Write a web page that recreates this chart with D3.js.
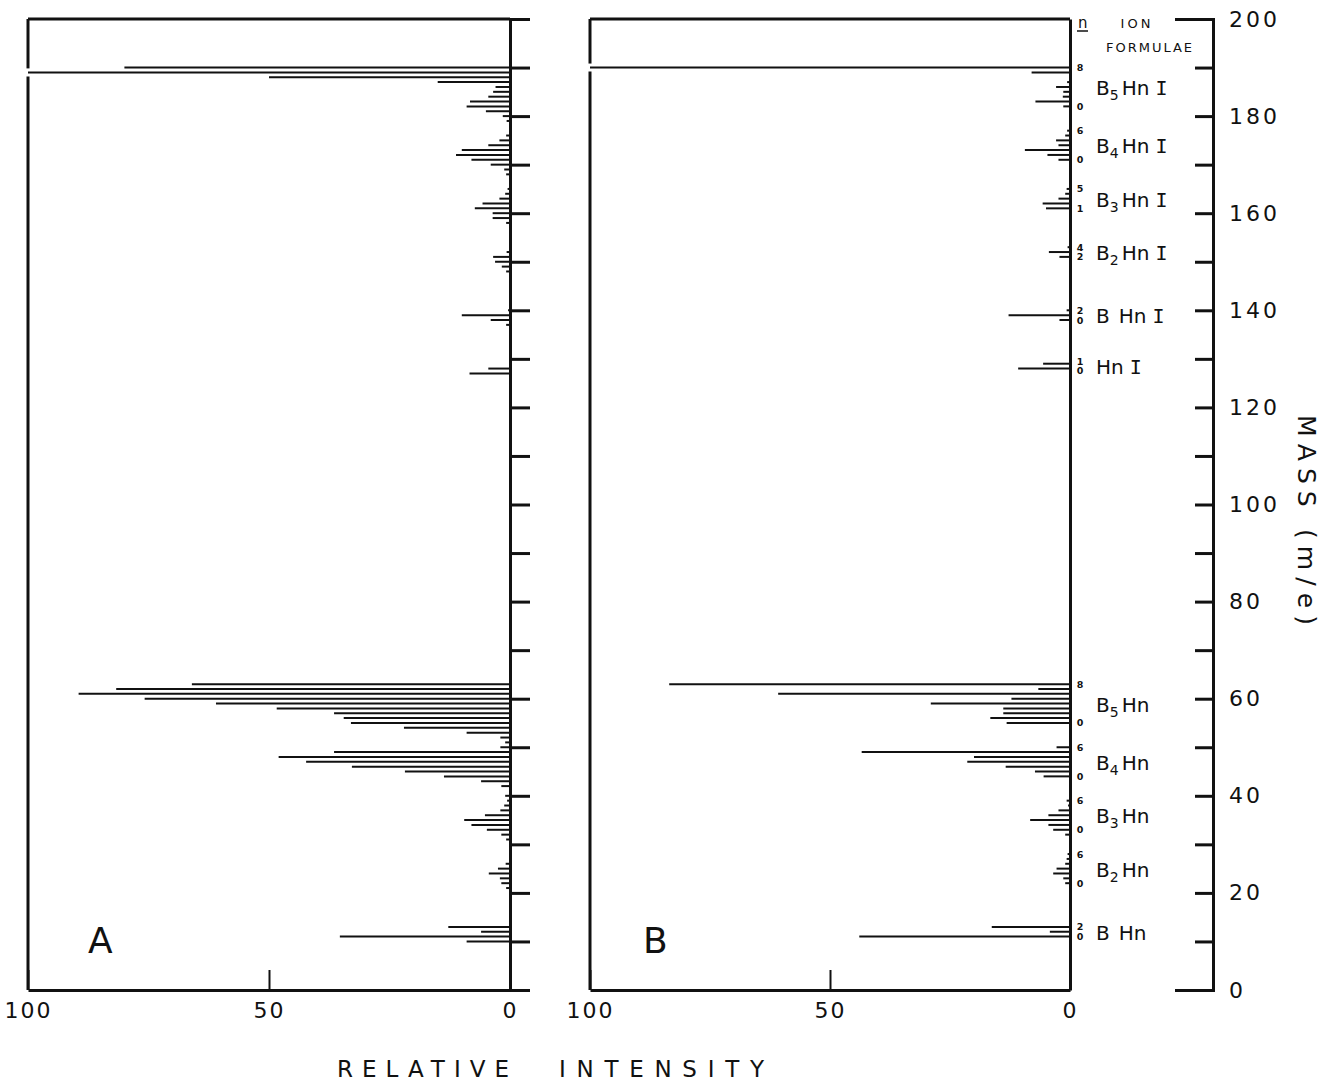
<!DOCTYPE html>
<html>
<head>
    <script src="https://d3js.org/d3.v7.min.js"></script>
    <title>boron hydride iodide spectra</title>
</head>
<style>
    body {
        margin: 0;
        background-color: white;
    }
    svg text {
        font-family: 'DejaVu Sans', sans-serif;
        fill: #111;
    }
</style>
<body>
<div id="chart"></div>
</body>
</html>

<script>
  // peaks: [mass m/e, relative intensity]
  var peaksA = [
      [190, 80], [189, 100], [188, 50], [187, 15], [186, 3], [185, 3.5], [184, 4.5], [183, 8.3], [182, 9], [181, 5], [180, 1.5], [179, 0.7],
      [176, 0.8], [175, 2.2], [174, 4.5], [173, 10], [172, 11.2], [171, 8], [170, 4], [169, 1.2], [168, 0.8],
      [165, 0.5], [164, 1], [163, 2.2], [162, 5.7], [161, 7.3], [160, 3.6], [159, 3.6], [158, 0.8],
      [152, 0.7], [151, 3.5], [150, 3.1], [149, 1.7], [148, 0.8],
      [140, 0.4], [139, 10], [138, 4], [137, 0.8],
      [128, 4.5], [127, 8.4],
      [63, 66], [62, 81.7], [61, 89.5], [60, 75.8], [59, 61], [58, 48.4], [57, 36.5], [56, 34.5], [55, 33], [54, 22], [53, 9], [52, 2], [51, 1], [50, 2],
      [49, 36.5], [48, 48], [47, 42.3], [46, 32.8], [45, 21.8], [44, 13.7], [43, 6], [42, 1.8], [40, 1], [39, 0.6],
      [38, 1.2], [37, 2], [36, 5.2], [35, 9.5], [34, 8], [33, 4.8], [32, 1.8], [31, 0.8],
      [26, 0.9], [25, 2.5], [24, 4.4], [23, 2.1], [22, 1.8], [21, 0.8],
      [13, 12.8], [12, 6], [11, 35.3], [10, 9]
  ];

  var peaksB = [
      [190, 100], [189, 8], [187, 0.6], [186, 2.9], [185, 1.4], [184, 1.5], [183, 7.2], [182, 1.4],
      [177, 0.6], [176, 1], [175, 2.9], [174, 2.4], [173, 9.4], [172, 4.7], [171, 2.4],
      [165, 0.7], [164, 1], [163, 2.4], [162, 5.7], [161, 5],
      [153, 0.5], [152, 4.4], [151, 2.2],
      [140, 0.7], [139, 12.8], [138, 2.2],
      [129, 5.6], [128, 10.8],
      [63, 83.5], [62, 6.6], [61, 60.8], [60, 12.2], [59, 29], [58, 13.9], [57, 13.9], [56, 16.6], [55, 13.2],
      [50, 2.8], [49, 43.4], [48, 20], [47, 21.4], [46, 13.4], [45, 7.3], [44, 5.5],
      [39, 0.7], [38, 0.4], [37, 2.4], [36, 4.5], [35, 8.3], [34, 4.5], [33, 3.5], [32, 1],
      [28, 0.5], [27, 0.7], [26, 1], [25, 2.8], [24, 3.5], [23, 1.4], [22, 1],
      [13, 16.3], [12, 4.2], [11, 43.9]
  ];

  // ion series: boron count, iodine or not, mass of the n = 0 ion, n range marked
  var ionGroups = [
      {boron: 5, iodide: true,  base: 182, nMin: 0, nMax: 8},
      {boron: 4, iodide: true,  base: 171, nMin: 0, nMax: 6},
      {boron: 3, iodide: true,  base: 160, nMin: 1, nMax: 5},
      {boron: 2, iodide: true,  base: 149, nMin: 2, nMax: 4},
      {boron: 1, iodide: true,  base: 138, nMin: 0, nMax: 2},
      {boron: 0, iodide: true,  base: 128, nMin: 0, nMax: 1},
      {boron: 5, iodide: false, base: 55,  nMin: 0, nMax: 8},
      {boron: 4, iodide: false, base: 44,  nMin: 0, nMax: 6},
      {boron: 3, iodide: false, base: 33,  nMin: 0, nMax: 6},
      {boron: 2, iodide: false, base: 22,  nMin: 0, nMax: 6},
      {boron: 1, iodide: false, base: 11,  nMin: 0, nMax: 2}
  ];

  var massTicks = d3.range(0, 201, 10);
  var intensityTicks = [100, 50, 0];

  var svg = d3.select("#chart").append("svg")
      .attr("width", 1321)
      .attr("height", 1084)
      .style("background-color", "white");

  var y = d3.scaleLinear().domain([0, 200]).range([990, 19]);
  var xA = d3.scaleLinear().domain([0, 100]).range([510, 28]);
  var xB = d3.scaleLinear().domain([0, 100]).range([1070, 590]);

  function drawPanel(x, peaks, name, withTicks) {
      var g = svg.append("g");

      // peaks
      g.selectAll("line.peak")
          .data(peaks)
          .enter()
          .append("line")
          .attr("class", "peak")
          .attr("x1", x(0))
          .attr("x2", function(d) { return x(Math.min(d[1], 100)); })
          .attr("y1", function(d) { return y(d[0]); })
          .attr("y2", function(d) { return y(d[0]); })
          .attr("stroke", "#111")
          .attr("stroke-width", 2);

      // top of frame
      g.append("line")
          .attr("x1", x(100)).attr("x2", x(0))
          .attr("y1", y(200)).attr("y2", y(200))
          .attr("stroke", "#111").attr("stroke-width", 3);

      // left border, broken where a peak runs off scale
      var cuts = [y(200)];
      peaks.filter(function(d) { return d[1] >= 100; }).forEach(function(d) {
          cuts.push(y(d[0]) - 4, y(d[0]) + 4);
      });
      cuts.push(y(0));
      for (var i = 0; i < cuts.length; i += 2) {
          g.append("line")
              .attr("x1", x(100)).attr("x2", x(100))
              .attr("y1", cuts[i]).attr("y2", cuts[i + 1])
              .attr("stroke", "#111").attr("stroke-width", 3);
      }

      // zero line (panel A carries the mass ticks on it)
      var right = g.append("g").attr("transform", "translate(" + x(0) + ",0)");
      if (withTicks) {
          right.call(d3.axisRight(y)
              .tickValues(massTicks.slice(1, -1))
              .tickSize(20)
              .tickSizeOuter(20)
              .tickFormat(""));
      } else {
          right.call(d3.axisRight(y).tickValues([]).tickSizeOuter(0));
      }
      right.selectAll("path, line").attr("stroke", "#111").attr("stroke-width", 3);

      // intensity axis
      var bottom = g.append("g")
          .attr("transform", "translate(0," + y(0) + ")")
          .call(d3.axisBottom(x)
              .tickValues(intensityTicks)
              .tickSize(-20)
              .tickSizeOuter(0)
              .tickPadding(12));
      bottom.selectAll("path").attr("stroke", "#111").attr("stroke-width", 3);
      bottom.selectAll("line").attr("stroke", "#111").attr("stroke-width", 2);
      bottom.selectAll("text")
          .attr("font-size", 22)
          .attr("letter-spacing", 2);

      // panel letter
      g.append("text")
          .attr("x", x(100) + (name === "A" ? 60 : 53))
          .attr("y", 953)
          .attr("font-size", 36)
          .text(name);
  }

  drawPanel(xA, peaksA, "A", true);
  drawPanel(xB, peaksB, "B", false);

  // mass scale on the far right
  var massAxis = svg.append("g")
      .attr("transform", "translate(1213,0)")
      .call(d3.axisRight(y)
          .tickValues(massTicks)
          .tickSize(-18)
          .tickSizeOuter(-38)
          .tickPadding(16)
          .tickFormat(function(d) { return d % 20 === 0 ? d : ""; }));
  massAxis.selectAll("path, line").attr("stroke", "#111").attr("stroke-width", 3);
  massAxis.selectAll("text")
      .attr("font-size", 22)
      .attr("letter-spacing", 3);

  svg.append("text")
      .attr("transform", "translate(1298,520) rotate(90)")
      .attr("text-anchor", "middle")
      .attr("font-size", 25)
      .attr("textLength", 210)
      .attr("lengthAdjust", "spacing")
      .text("MASS (m/e)");

  svg.append("text")
      .attr("x", 337).attr("y", 1077)
      .attr("font-size", 23)
      .attr("textLength", 172)
      .attr("lengthAdjust", "spacing")
      .text("RELATIVE");
  svg.append("text")
      .attr("x", 559).attr("y", 1077)
      .attr("font-size", 23)
      .attr("textLength", 205)
      .attr("lengthAdjust", "spacing")
      .text("INTENSITY");

  // ion formula column
  svg.append("text")
      .attr("x", 1078).attr("y", 28)
      .attr("font-size", 15)
      .text("n");
  svg.append("line")
      .attr("x1", 1077).attr("x2", 1088)
      .attr("y1", 31).attr("y2", 31)
      .attr("stroke", "#111").attr("stroke-width", 1.5);
  svg.append("text")
      .attr("x", 1137).attr("y", 28)
      .attr("text-anchor", "middle")
      .attr("font-size", 13)
      .attr("letter-spacing", 3)
      .text("ION");
  svg.append("text")
      .attr("x", 1150).attr("y", 52)
      .attr("text-anchor", "middle")
      .attr("font-size", 13)
      .attr("letter-spacing", 2)
      .text("FORMULAE");

  var groups = svg.selectAll("g.ion")
      .data(ionGroups)
      .enter()
      .append("g")
      .attr("class", "ion");

  // n range marks; spread apart when the two masses sit too close
  function nPos(d, which) {
      var top = y(d.base + d.nMax), bot = y(d.base + d.nMin);
      if (bot - top < 9) {
          var mid = (top + bot) / 2;
          top = mid - 4.5;
          bot = mid + 4.5;
      }
      return (which === "top" ? top : bot) + 3.5;
  }

  groups.append("text")
      .attr("x", 1080)
      .attr("y", function(d) { return nPos(d, "top"); })
      .attr("text-anchor", "middle")
      .attr("font-size", 9.5)
      .attr("font-weight", "bold")
      .text(function(d) { return d.nMax; });
  groups.append("text")
      .attr("x", 1080)
      .attr("y", function(d) { return nPos(d, "bottom"); })
      .attr("text-anchor", "middle")
      .attr("font-size", 9.5)
      .attr("font-weight", "bold")
      .text(function(d) { return d.nMin; });

  var formula = groups.append("text")
      .attr("x", 1096)
      .attr("y", function(d) { return y(d.base + (d.nMin + d.nMax) / 2) + 8; })
      .attr("font-size", 20);
  formula.each(function(d) {
      var t = d3.select(this);
      if (d.boron > 0) t.append("tspan").text("B");
      if (d.boron > 1) {
          t.append("tspan").attr("font-size", 14).attr("dy", 5).text(d.boron);
          t.append("tspan").attr("dy", -5).attr("dx", 3).text("Hn");
      } else if (d.boron === 1) {
          t.append("tspan").attr("dx", 9).text("Hn");
      } else {
          t.append("tspan").text("Hn");
      }
      if (d.iodide) {
          t.append("tspan")
              .attr("dx", 6)
              .style("font-family", "'DejaVu Sans Mono', monospace")
              .text("I");
      }
  });
</script>
